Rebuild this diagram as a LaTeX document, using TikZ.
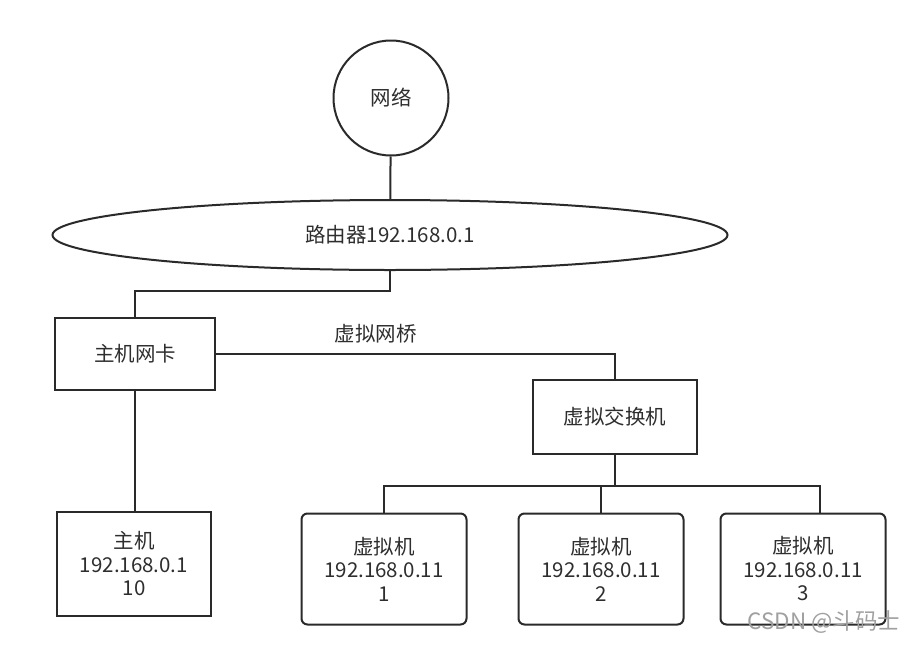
\documentclass[tikz,border=0pt]{standalone}
\usepackage{fontspec}
\setmainfont{Noto Sans CJK SC}
\usetikzlibrary{shapes.geometric,calc}
\definecolor{ln}{HTML}{2A2A2A}
\definecolor{tx}{HTML}{2E2E2E}
\definecolor{wm}{HTML}{A0A0A0}
\tikzset{
  net/.style={circle, draw=ln, line width=2pt, minimum size=115pt, inner sep=0pt, text=tx},
  rtr/.style={ellipse, draw=ln, line width=2pt, minimum width=675pt, minimum height=70pt, inner sep=0pt, text=tx},
  box/.style={rectangle, draw=ln, line width=2pt, inner sep=0pt, align=center, text=tx},
  vm/.style={box, rounded corners=6pt, minimum width=165pt, minimum height=111pt},
  wire/.style={draw=ln, line width=2pt},
}
\newcommand{\lbl}{\fontsize{20.5}{23.5}\selectfont}

\begin{document}
\begin{tikzpicture}[x=1pt, y=-1pt, font=\lbl]
  \useasboundingbox (0,0) rectangle (921,651);
  \node[net] (inet) at (391,98) {网络};
  \node[rtr] (router) at (390,235) {路由器192.168.0.1};
  \node[box, minimum width=160pt, minimum height=72pt] (nic) at (135,354) {主机网卡};
  \node[box, minimum width=164pt, minimum height=74pt] (vsw) at (615,417) {虚拟交换机};
  \node[box, minimum width=154pt, minimum height=104pt] (host) at (134,564) {主机\\192.168.0.1\\10};
  \node[vm] (vm1) at (384,569) {虚拟机\\192.168.0.11\\1};
  \node[vm] (vm2) at (601,569) {虚拟机\\192.168.0.11\\2};
  \node[vm] (vm3) at (803,569) {虚拟机\\192.168.0.11\\3};
  % links
  \draw[wire] (inet) -- (router);
  \draw[wire] (router.south) -- ++(0,20) -| (nic.north);
  \draw[wire] (nic.east) -| node[pos=0.2, above=6pt, text=tx] {虚拟网桥} (vsw.north);
  \draw[wire] (nic.south) -- (nic.south |- host.north);
  \coordinate (bus) at ($(vsw.south)+(0,31)$);
  \draw[wire] (vsw.south) -- (bus);
  \draw[wire] (vm1.north) |- (bus) -| ([xshift=17pt]vm3.north);
  \draw[wire] (bus -| vm2.north) -- (vm2.north);
  \node[text=wm, font=\fontsize{22.5}{24}\selectfont] (mark) at (824,622) {CSDN @斗码士};
\end{tikzpicture}
\end{document}
